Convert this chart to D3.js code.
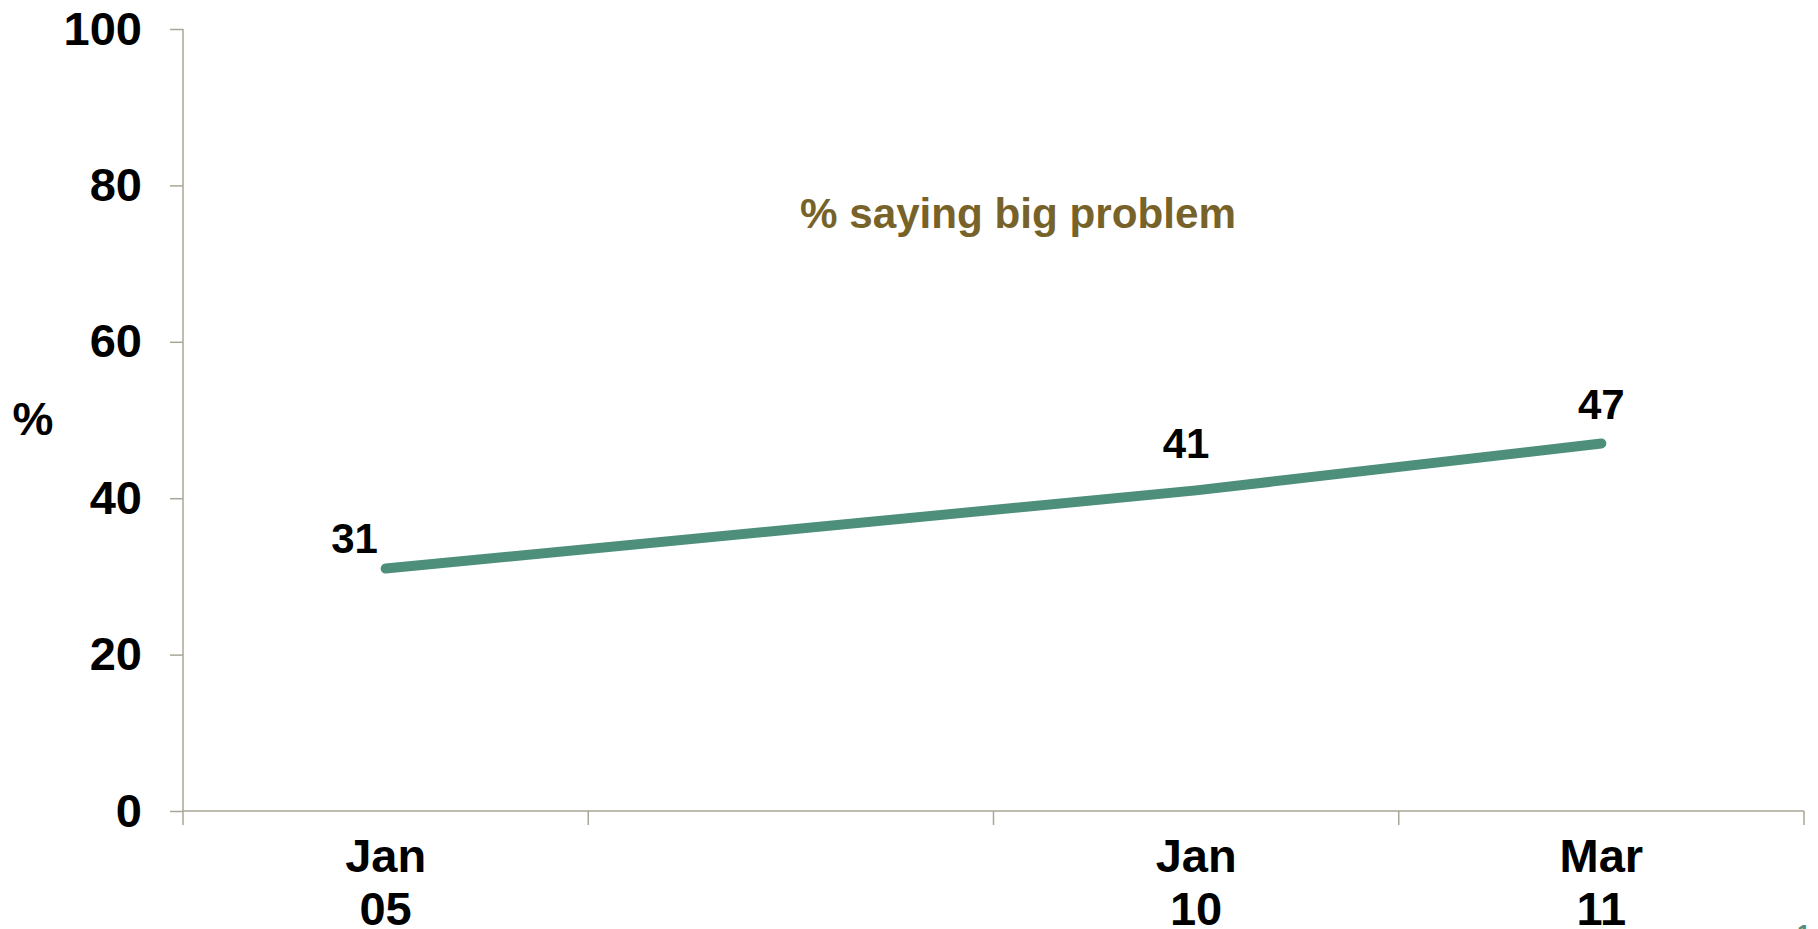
<!DOCTYPE html>
<html>
<head>
<meta charset="utf-8">
<script src="https://cdn.jsdelivr.net/npm/d3@7"></script>
<style>
  html, body { margin: 0; padding: 0; background: #ffffff; overflow: hidden; }
  svg { display: block; }
  text { font-family: "Liberation Sans", Arial, sans-serif; }
</style>
</head>
<body>
<svg id="chart" width="1818" height="929"></svg>
<script>
// ---- data ----
const categories = ["Jan 05", "", "Jan 10", "Mar 11"];
const catLine1 = ["Jan", "", "Jan", "Mar"];
const catLine2 = ["05", "", "10", "11"];
const bigProblem = [31, null, 41, 47];
const yTicks = [0, 20, 40, 60, 80, 100];
const seriesLabel = "% saying big problem";
const yTitle = "%";

// ---- layout ----
const W = 1818, H = 929;
const plot = { left: 183, right: 1804, top: 29, bottom: 811 };
const lineColor = "#4d8f7b";
const axisColor = "#a9a597";
const labelDx = [-31, 0, -10, 0];
const labelDy = [-16, 0, -32, -24];

const svg = d3.select("#chart");

const x = d3.scaleBand().domain(categories).range([plot.left, plot.right]).padding(0);
const y = d3.scaleLinear().domain([0, 100]).range([plot.bottom, plot.top]);
const cx = c => x(c) + x.bandwidth() / 2;

// Y axis
const yAxis = d3.axisLeft(y).tickValues(yTicks).tickSize(13).tickSizeOuter(0).tickPadding(28);
const gy = svg.append("g").attr("transform", `translate(${plot.left},0)`).call(yAxis);
gy.select(".domain").remove();
gy.selectAll(".tick line").attr("stroke", axisColor).attr("stroke-width", 1.5);
gy.selectAll(".tick text")
  .attr("fill", "#000").attr("font-size", 47).attr("font-weight", "bold")
  .attr("font-family", "'Liberation Sans', Arial, sans-serif");
svg.append("line")
  .attr("x1", plot.left).attr("x2", plot.left)
  .attr("y1", y(100)).attr("y2", y(0) + 14)
  .attr("stroke", axisColor).attr("stroke-width", 1.5);

// X axis
svg.append("line")
  .attr("x1", plot.left).attr("x2", plot.right)
  .attr("y1", y(0)).attr("y2", y(0))
  .attr("stroke", axisColor).attr("stroke-width", 1.5);
const boundaries = categories.map(c => x(c)).concat([x.range()[1]]);
svg.append("g").selectAll("line").data(boundaries.slice(1)).join("line")
  .attr("x1", d => d).attr("x2", d => d)
  .attr("y1", y(0)).attr("y2", y(0) + 14)
  .attr("stroke", axisColor).attr("stroke-width", 1.5);

const xl = svg.append("g").selectAll("text").data(categories).join("text")
  .attr("x", d => cx(d))
  .attr("text-anchor", "middle")
  .attr("font-size", 47).attr("font-weight", "bold").attr("fill", "#000");
xl.append("tspan").attr("x", d => cx(d)).attr("y", 872).text((d, i) => catLine1[i]);
xl.append("tspan").attr("x", d => cx(d)).attr("y", 925).text((d, i) => catLine2[i]);

// Y title
svg.append("text").attr("x", 33).attr("y", 419)
  .attr("text-anchor", "middle").attr("dominant-baseline", "central")
  .attr("font-size", 46).attr("font-weight", "bold").attr("fill", "#000")
  .text(yTitle);

// Line
const pts = categories.map((c, i) => ({ c, v: bigProblem[i], i })).filter(d => d.v != null);
const line = d3.line().x(d => cx(d.c)).y(d => y(d.v));
svg.append("path").datum(pts)
  .attr("d", line)
  .attr("fill", "none").attr("stroke", lineColor)
  .attr("stroke-width", 10).attr("stroke-linecap", "round").attr("stroke-linejoin", "round");

// Data labels
svg.append("g").selectAll("text").data(pts).join("text")
  .attr("x", d => cx(d.c) + labelDx[d.i])
  .attr("y", d => y(d.v) + labelDy[d.i])
  .attr("text-anchor", "middle")
  .attr("font-size", 42).attr("font-weight", "bold").attr("fill", "#000")
  .text(d => d.v);

// Series label
svg.append("text").attr("x", 800).attr("y", 228)
  .attr("font-size", 43).attr("font-weight", "bold").attr("fill", "#776329")
  .attr("textLength", 436).attr("lengthAdjust", "spacingAndGlyphs")
  .text(seriesLabel);

// page number (partially cut off)
svg.append("text").attr("x", 1797).attr("y", 942)
  .attr("font-size", 24).attr("font-weight", "bold").attr("fill", lineColor)
  .text("1");
</script>
</body>
</html>
